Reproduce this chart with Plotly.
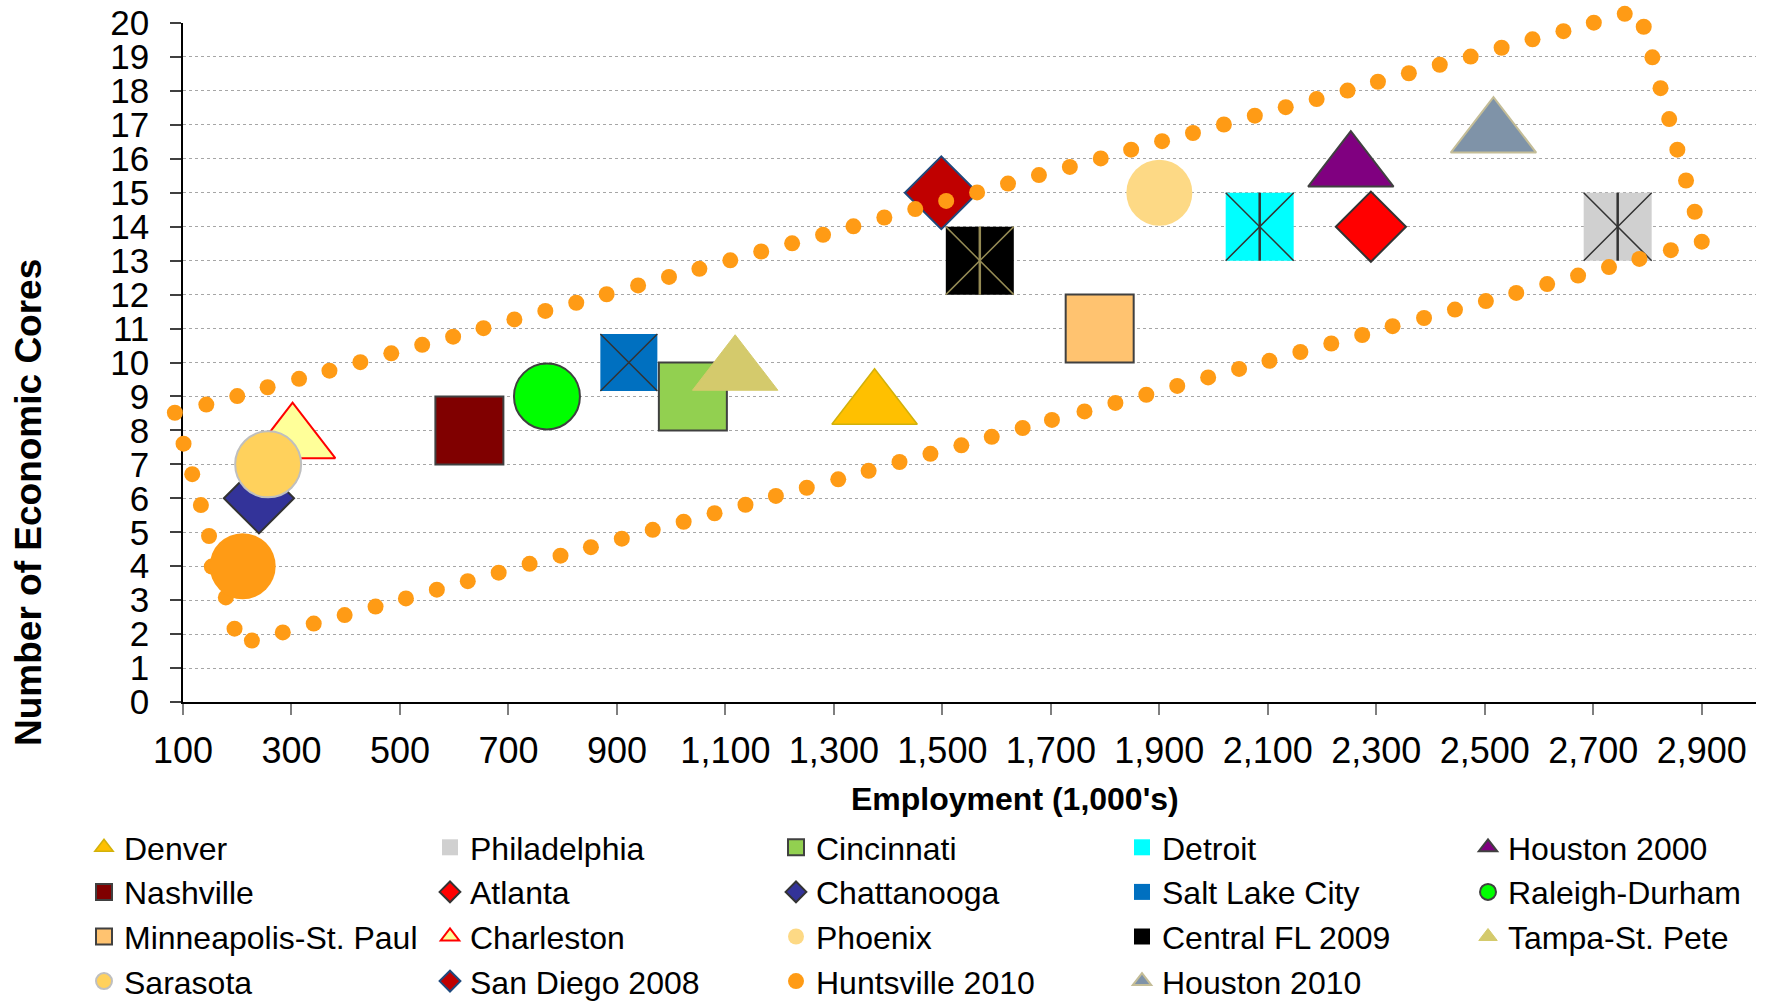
import plotly.graph_objects as go

# ---------------- data ----------------
series = ["Denver", "Philadelphia", "Cincinnati", "Detroit", "Houston 2000",
          "Nashville", "Atlanta", "Chattanooga", "Salt Lake City", "Raleigh-Durham",
          "Minneapolis-St. Paul", "Charleston", "Phoenix", "Central FL 2009", "Tampa-St. Pete",
          "Sarasota", "San Diego 2008", "Huntsville 2010", "Houston 2010"]
employment = [1375, 2745, 1040, 2085, 2253,
              628, 2290, 240, 922, 771,
              1790, 302, 1900, 1569, 1118,
              257, 1498, 210, 2516]
cores = [9, 14, 9, 14, 16,
         8, 14, 6, 10, 9,
         11, 8, 15, 13, 10,
         7, 15, 4, 17]

# dotted envelope drawn around the points (dot positions)
loop_x = [85, 143, 200, 256, 314, 370, 427, 484, 541, 598, 654, 711, 768, 825, 881,
          939, 996, 1052, 1109, 1166, 1223, 1280, 1336, 1393, 1450, 1507, 1564, 1621,
          1678, 1735, 1792, 1848, 1905, 1962, 2019, 2076, 2133, 2190, 2247, 2303, 2360,
          2417, 2474, 2531, 2588, 2645, 2701, 2758,
          2793, 2809, 2824, 2840, 2855, 2871, 2887, 2900,
          2843, 2785, 2729, 2672, 2615, 2558, 2502, 2445, 2388, 2330, 2274, 2217, 2160,
          2103, 2047, 1990, 1933, 1876, 1819, 1762, 1702, 1648, 1591, 1535, 1478, 1421,
          1364, 1308, 1250, 1193, 1137, 1080, 1023, 966, 909, 852, 796, 739, 682, 625,
          568, 511, 455, 398, 341, 284, 227,
          195, 179, 153, 148, 133, 117, 101]
loop_y = [8.52, 8.76, 9.01, 9.27, 9.52, 9.76, 10.01, 10.27, 10.52, 10.76, 11.01, 11.27,
          11.52, 11.76, 12.01, 12.27, 12.52, 12.76, 13.01, 13.27, 13.51, 13.76, 14.01,
          14.27, 14.52, 14.76, 15.01, 15.27, 15.52, 15.76, 16.01, 16.27, 16.52, 16.76,
          17.01, 17.27, 17.52, 17.76, 18.01, 18.27, 18.52, 18.77, 19.01, 19.27, 19.52,
          19.76, 20.01, 20.27,
          19.89, 18.99, 18.08, 17.17, 16.27, 15.36, 14.44, 13.56,
          13.31, 13.05, 12.81, 12.56, 12.31, 12.05, 11.81, 11.56, 11.31, 11.07, 10.81,
          10.56, 10.31, 10.05, 9.81, 9.56, 9.31, 9.05, 8.81, 8.56, 8.31, 8.07, 7.81,
          7.56, 7.31, 7.07, 6.81, 6.56, 6.31, 6.07, 5.81, 5.56, 5.31, 5.07, 4.81, 4.56,
          4.31, 4.07, 3.81, 3.56, 3.31, 3.05, 2.81, 2.56, 2.31, 2.05, 1.81,
          2.16, 3.08, 3.99, 4.89, 5.80, 6.71, 7.61]

x_tick_vals = [100, 300, 500, 700, 900, 1100, 1300, 1500, 1700, 1900, 2100, 2300, 2500, 2700, 2900]
x_tick_text = ["100", "300", "500", "700", "900", "1,100", "1,300", "1,500", "1,700",
               "1,900", "2,100", "2,300", "2,500", "2,700", "2,900"]
y_tick_vals = list(range(0, 21))
X_MIN, X_MAX, Y_MIN, Y_MAX = 100, 3000, 0, 20

x_title = "Employment (1,000's)"
y_title = "Number of Economic Cores"

# ---------------- geometry (pixels) ----------------
W, H = 1769, 1003
PX_L, PX_R, PX_T, PX_B = 183, 1756, 23, 702      # plot area of the main axes
ML, MT = 150, 5                                   # outer margins (room for the loop dots)
MR, MB = W - PX_R, H - PX_B
pw, ph = W - ML - MR, H - MT - MB
xu = (PX_R - PX_L) / (X_MAX - X_MIN)             # px per x unit
yu = (PX_B - PX_T) / (Y_MAX - Y_MIN)             # px per y unit


def px_x(p):
    return (p - ML) / pw


def px_y(p):
    return (H - MB - p) / ph


# ---------------- styles ----------------
SQ, CI, DI, TR = 68, 66, 54, 74
TRI_SHIFT = (TR / 2) / 4 / yu    # centre triangle bounding box on its value
styles = {
    "Denver":               dict(sym="triangle-up", size=TR, fill="#FFC000", line="#D2B10A", lw=1.5, ax="y2"),
    "Philadelphia":         dict(sym="square", size=SQ, fill="#D0D0D0", line="#D0D0D0", lw=0, cross="#333333", star=True),
    "Cincinnati":           dict(sym="square", size=SQ, fill="#92D050", line="#404040", lw=2),
    "Detroit":              dict(sym="square", size=SQ, fill="#00FFFF", line="#00FFFF", lw=0, cross="#333333", star=True),
    "Houston 2000":         dict(sym="triangle-up", size=TR, fill="#800080", line="#404040", lw=2, ax="y2"),
    "Nashville":            dict(sym="square", size=SQ, fill="#800000", line="#404040", lw=2),
    "Atlanta":              dict(sym="diamond", size=DI, fill="#FF0000", line="#333333", lw=2),
    "Chattanooga":          dict(sym="diamond", size=DI, fill="#333399", line="#333333", lw=2),
    "Salt Lake City":       dict(sym="square", size=57, fill="#0070C0", line="#0070C0", lw=0, cross="#333333", star=False),
    "Raleigh-Durham":       dict(sym="circle", size=CI, fill="#00FF00", line="#404040", lw=2),
    "Minneapolis-St. Paul": dict(sym="square", size=SQ, fill="#FFC370", line="#404040", lw=2),
    "Charleston":           dict(sym="triangle-up", size=TR, fill="#FFFF99", line="#FF0000", lw=2, ax="y2"),
    "Phoenix":              dict(sym="circle", size=CI, fill="#FDD985", line="#FDD985", lw=0),
    "Central FL 2009":      dict(sym="square", size=SQ, fill="#000000", line="#000000", lw=0, cross="#948A54", star=True),
    "Tampa-St. Pete":       dict(sym="triangle-up", size=TR, fill="#D4CA6C", line="#D4CA6C", lw=1, ax="y2"),
    "Sarasota":             dict(sym="circle", size=CI, fill="#FFD15C", line="#BFBFBF", lw=2, ax="y3"),
    "San Diego 2008":       dict(sym="diamond", size=56, fill="#C00000", line="#1F497D", lw=2),
    "Huntsville 2010":      dict(sym="circle", size=CI, fill="#FF9B15", line="#FF9B15", lw=0, ax="y4"),
    "Houston 2010":         dict(sym="triangle-up", size=TR, fill="#7F93A8", line="#C4BD97", lw=2, ax="y2"),
}
LOOP_COLOR = "#FF9B15"

# drawing order (bottom -> top); legend order is kept via legendrank
draw_order = ["Philadelphia", "Cincinnati", "Detroit", "Nashville", "Atlanta", "Chattanooga",
              "Salt Lake City", "Raleigh-Durham", "Minneapolis-St. Paul", "Phoenix",
              "Central FL 2009", "San Diego 2008", "__loop__", "Huntsville 2010",
              "Denver", "Houston 2000", "Charleston", "Tampa-St. Pete", "Houston 2010",
              "Sarasota"]

fig = go.Figure()
for name in draw_order:
    if name == "__loop__":
        fig.add_trace(go.Scatter(x=loop_x, y=loop_y, mode="markers", showlegend=False,
                                 xaxis="x2", yaxis="y4", hoverinfo="skip",
                                 marker=dict(symbol="circle", size=16, color=LOOP_COLOR,
                                             line=dict(width=0))))
        continue
    i = series.index(name)
    st = styles[name]
    ax = st.get("ax", "y")
    xa = "x2" if ax == "y4" else "x"
    fig.add_trace(go.Scatter(
        x=[employment[i]], y=[cores[i]], name=name, mode="markers", xaxis=xa, yaxis=ax,
        legendrank=i + 1, cliponaxis=False,
        marker=dict(symbol=st["sym"], size=st["size"], color=st["fill"],
                    line=dict(color=st["line"], width=st["lw"]))))
    if "cross" in st:
        fig.add_trace(go.Scatter(
            x=[employment[i]], y=[cores[i]], mode="markers", showlegend=False,
            hoverinfo="skip", cliponaxis=False,
            marker=dict(symbol="x-thin-open", size=st["size"], color=st["cross"],
                        line=dict(width=1.5))))
        if st["star"]:
            fig.add_trace(go.Scatter(
                x=[employment[i]], y=[cores[i]], mode="markers", showlegend=False,
                hoverinfo="skip", cliponaxis=False,
                marker=dict(symbol="line-ns-open", size=st["size"] / 1.4, color=st["cross"],
                            line=dict(width=2.5))))

tick_common = dict(ticklen=11, tickwidth=1.5)
fig.update_layout(
    width=W, height=H,
    margin=dict(l=ML, r=MR, t=MT, b=MB, autoexpand=False),
    plot_bgcolor="rgba(0,0,0,0)", paper_bgcolor="white",
    font=dict(family="Liberation Sans, Arial, sans-serif", color="black"),
    xaxis=dict(domain=[px_x(PX_L), 1], range=[X_MIN, X_MAX], tickmode="array",
               tickvals=x_tick_vals, ticktext=x_tick_text,
               showgrid=False, zeroline=False, showline=True, linecolor="black", linewidth=1.5,
               ticks="outside", tickcolor="#7F7F7F", **tick_common,
               tickfont=dict(size=36), ticklabelstandoff=5),
    yaxis=dict(domain=[0, px_y(PX_T)], range=[Y_MIN, Y_MAX], tickmode="array", tickvals=y_tick_vals,
               showgrid=True, gridcolor="#A6A6A6", griddash="dot", gridwidth=1,
               zeroline=False, showline=True, linecolor="black", linewidth=1.5,
               ticks="outside", tickcolor="#404040", **tick_common,
               tickfont=dict(size=35), ticklabelstandoff=14),
    # companion axes that only draw the inner half of the crossing tick marks
    xaxis3=dict(overlaying="x", anchor="y", range=[X_MIN, X_MAX], tickmode="array",
                tickvals=x_tick_vals, showticklabels=False, showgrid=False, zeroline=False,
                showline=False, ticks="inside", tickcolor="#7F7F7F", **tick_common),
    yaxis5=dict(overlaying="y", anchor="x", range=[Y_MIN, Y_MAX], tickmode="array",
                tickvals=y_tick_vals, showticklabels=False, showgrid=False, zeroline=False,
                showline=False, ticks="inside", tickcolor="#404040", **tick_common),
    yaxis2=dict(overlaying="y", range=[Y_MIN + TRI_SHIFT, Y_MAX + TRI_SHIFT], visible=False),
    yaxis3=dict(overlaying="y", range=[Y_MIN, Y_MAX], visible=False),
    # full-paper axes with the same scale, so dots just outside the frame stay visible
    xaxis2=dict(domain=[0, 1], anchor="y4",
                range=[X_MIN - (PX_L - ML) / xu, X_MAX], visible=False, showgrid=False),
    yaxis4=dict(domain=[0, 1], anchor="x2",
                range=[Y_MIN, Y_MAX + (PX_T - MT) / yu], visible=False, showgrid=False),
    showlegend=True,
    legend=dict(orientation="h", xanchor="left", yanchor="top",
                x=px_x(84), y=px_y(820),
                entrywidth=301, entrywidthmode="pixels", traceorder="normal",
                font=dict(size=32), itemsizing="trace", bgcolor="rgba(0,0,0,0)"),
    annotations=[
        dict(text="<b>" + x_title + "</b>", xref="paper", yref="paper",
             x=px_x(1015), y=px_y(799), showarrow=False,
             xanchor="center", yanchor="middle", font=dict(size=32)),
        dict(text="<b>" + y_title + "</b>", xref="paper", yref="paper",
             x=px_x(28), y=px_y(503), showarrow=False, textangle=-90,
             xanchor="center", yanchor="middle", font=dict(size=37)),
    ],
)

fig.write_html("out.html")
